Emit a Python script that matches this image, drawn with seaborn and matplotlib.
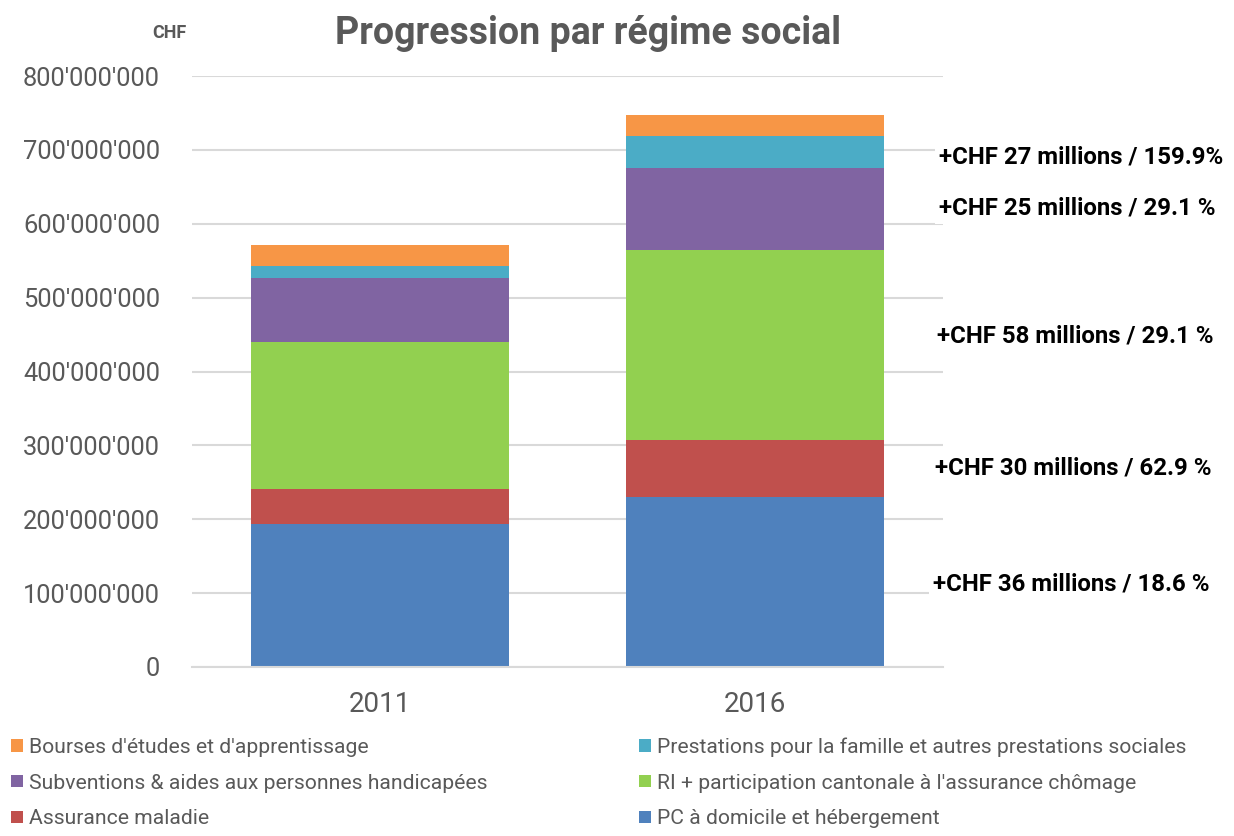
import numpy as np
import pandas as pd
import matplotlib
matplotlib.use("Agg")
import matplotlib.pyplot as plt
import seaborn as sns
from matplotlib.patches import Patch
from matplotlib.ticker import FuncFormatter

# ---------------- DATA (CHF) ----------------
years = ["2011", "2016"]
categories = [
    "PC à domicile et hébergement",
    "Assurance maladie",
    "RI + participation cantonale à l'assurance chômage",
    "Subventions & aides aux personnes handicapées",
    "Prestations pour la famille et autres prestations sociales",
    "Bourses d'études et d'apprentissage",
]
pc_domicile = [193.5e6, 229.5e6]
assurance_maladie = [47.7e6, 77.7e6]
ri_chomage = [199.3e6, 257.3e6]
subventions = [85.9e6, 110.9e6]
prestations_famille = [16.9e6, 43.9e6]
bourses = [28.0e6, 28.0e6]
series = [pc_domicile, assurance_maladie, ri_chomage, subventions,
          prestations_famille, bourses]
colors = ["#4F81BD", "#C0504D", "#92D050", "#8064A2", "#4BACC6", "#F79646"]
yticks = [0, 100e6, 200e6, 300e6, 400e6, 500e6, 600e6, 700e6, 800e6]
annotations = [
    "+CHF 36 millions / 18.6 %",
    "+CHF 30 millions / 62.9 %",
    "+CHF 58 millions / 29.1 %",
    "+CHF 25 millions / 29.1 %",
    "+CHF 27 millions / 159.9%",
]
annot_y = [112e6, 270e6, 448e6, 621e6, 690e6]  # label heights
annot_x = [1.474, 1.479, 1.484, 1.489, 1.489]

# ---------------- PLOT ----------------
sns.set_style("white")
plt.rcParams["font.family"] = ["Roboto", "DejaVu Sans"]

fig = plt.figure(figsize=(12.34, 8.36), dpi=100)
ax = fig.add_axes([0.1556, 0.2022, 0.6086, 0.7068])

bottom = np.zeros(len(years))
for vals, col in zip(series, colors):
    df = pd.DataFrame({"year": years, "value": vals})
    sns.barplot(data=df, x="year", y="value", bottom=bottom, color=col,
                width=0.687, saturation=1, ax=ax, zorder=2, linewidth=0)
    bottom = bottom + np.array(vals)

ax.set_xlim(-0.5, 1.5)
ax.set_ylim(0, 800e6)
ax.set_yticks(yticks)
ax.yaxis.set_major_formatter(FuncFormatter(lambda v, p: f"{int(v):,}".replace(",", "'")))
ax.grid(axis="y", color="#D9D9D9", linewidth=1.5, zorder=0)
ax.set_axisbelow(True)
for s in ax.spines.values():
    s.set_visible(False)
ax.spines["bottom"].set_visible(True)
ax.spines["bottom"].set_color("#D9D9D9")
ax.spines["bottom"].set_linewidth(1.5)
ax.tick_params(axis="y", labelsize=18.4, colors="#595959", length=0, pad=23)
ax.tick_params(axis="x", labelsize=20, colors="#595959", length=0, pad=17)
ax.set_xlabel("")
ax.set_ylabel("")

fig.text(0.4765, 0.9605, "Progression par régime social", ha="center", va="center",
         fontsize=27, fontweight="bold", color="#595959")
fig.text(0.1369, 0.9605, "CHF", ha="center", va="center", fontsize=13,
         fontweight="bold", color="#595959")

for txt, xv, yv in zip(annotations, annot_x, annot_y):
    ax.text(xv, yv, txt, ha="left", va="center", fontsize=17.3, fontweight="bold",
            color="black", clip_on=False,
            bbox=dict(facecolor="white", edgecolor="none", pad=3))

order = [5, 3, 1, 4, 2, 0]
handles = [Patch(facecolor=colors[i], edgecolor="none") for i in order]
labels = [categories[i] for i in order]
fig.legend(handles, labels, ncol=2, loc="upper left", bbox_to_anchor=(-0.0065, 0.141),
           frameon=False, fontsize=15.2, labelcolor="#595959", handlelength=0.55,
           handleheight=0.55, handletextpad=0.3, columnspacing=7.2, labelspacing=0.8)

fig.savefig("out.png", dpi=100)
